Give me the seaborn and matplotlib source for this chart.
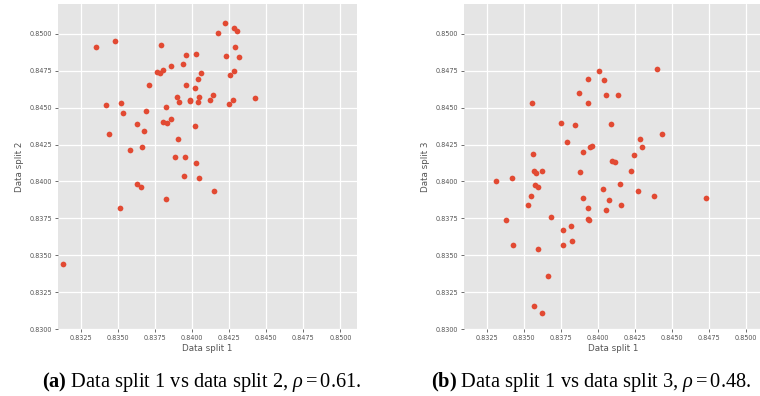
import matplotlib
matplotlib.use("Agg")
import matplotlib.pyplot as plt
from matplotlib.ticker import MultipleLocator, FormatStrFormatter
import seaborn as sns
import pandas as pd

# Validation scores of the same runs evaluated on different data splits
split1_vs2 = [0.83351, 0.83477, 0.83786, 0.84176, 0.84218, 0.84284, 0.84302, 0.84291,
              0.84230, 0.84315, 0.83955, 0.84025, 0.83937, 0.83858, 0.83759, 0.83779,
              0.83804, 0.84059, 0.84036, 0.84255, 0.84284, 0.83707, 0.83957, 0.84016,
              0.84140, 0.84122, 0.83896, 0.83982, 0.83986, 0.83910, 0.84036, 0.84045,
              0.84248, 0.84277, 0.84421, 0.83414, 0.83518, 0.83532, 0.83685, 0.83824,
              0.83802, 0.83827, 0.83854, 0.83626, 0.83671, 0.83435, 0.84020, 0.83901,
              0.83660, 0.83581, 0.83883, 0.83948, 0.84027, 0.83946, 0.84047, 0.83628,
              0.83655, 0.83514, 0.83820, 0.84149, 0.83126]
split2 = [0.84910, 0.84953, 0.84921, 0.85002, 0.85074, 0.85036, 0.85018, 0.84910,
          0.84849, 0.84842, 0.84854, 0.84865, 0.84797, 0.84779, 0.84743, 0.84736,
          0.84757, 0.84732, 0.84696, 0.84721, 0.84750, 0.84651, 0.84651, 0.84633,
          0.84586, 0.84554, 0.84574, 0.84554, 0.84545, 0.84536, 0.84536, 0.84572,
          0.84523, 0.84550, 0.84565, 0.84514, 0.84532, 0.84464, 0.84475, 0.84507,
          0.84405, 0.84396, 0.84423, 0.84387, 0.84340, 0.84322, 0.84372, 0.84284,
          0.84232, 0.84214, 0.84164, 0.84164, 0.84124, 0.84038, 0.84025, 0.83980,
          0.83962, 0.83820, 0.83881, 0.83937, 0.83444]

split1_vs3 = [0.84006, 0.83932, 0.84040, 0.84397, 0.83872, 0.84056, 0.84132, 0.83557,
              0.83932, 0.83750, 0.83842, 0.84085, 0.84433, 0.83791, 0.83946, 0.83961,
              0.83901, 0.83564, 0.84285, 0.84300, 0.84246, 0.84094, 0.84116, 0.84224,
              0.83878, 0.83566, 0.83580, 0.83620, 0.83308, 0.83416, 0.83575, 0.83598,
              0.83546, 0.83524, 0.83681, 0.83380, 0.83896, 0.83934, 0.83932, 0.83939,
              0.84031, 0.84071, 0.84056, 0.84148, 0.84157, 0.84271, 0.84377, 0.84727,
              0.83766, 0.83820, 0.83827, 0.83766, 0.83427, 0.83598, 0.83661, 0.83571,
              0.83623]
split3 = [0.84750, 0.84694, 0.84687, 0.84761, 0.84597, 0.84586, 0.84583, 0.84529,
          0.84534, 0.84396, 0.84383, 0.84387, 0.84322, 0.84268, 0.84230, 0.84239,
          0.84200, 0.84189, 0.84286, 0.84232, 0.84176, 0.84140, 0.84135, 0.84068,
          0.84061, 0.84068, 0.84057, 0.84074, 0.84000, 0.84023, 0.83977, 0.83964,
          0.83901, 0.83842, 0.83759, 0.83741, 0.83887, 0.83818, 0.83743, 0.83739,
          0.83948, 0.83874, 0.83806, 0.83984, 0.83842, 0.83935, 0.83903, 0.83887,
          0.83671, 0.83698, 0.83595, 0.83568, 0.83570, 0.83541, 0.83358, 0.83158,
          0.83108]

captions = [r"$\mathbf{(a)}$ Data split 1 vs data split 2, $\rho=0.61$.",
            r"$\mathbf{(b)}$ Data split 1 vs data split 3, $\rho=0.48$."]

sns.set_theme(style="darkgrid")
plt.rcParams.update({
    "axes.facecolor": "#E5E5E5",
    "grid.color": "white",
    "grid.linewidth": 0.9,
    "axes.edgecolor": "white",
    "axes.labelcolor": "#555555",
    "xtick.color": "#555555",
    "ytick.color": "#555555",
    "xtick.bottom": True,
    "ytick.left": True,
    "xtick.major.size": 2.2,
    "ytick.major.size": 2.2,
    "xtick.major.width": 0.6,
    "ytick.major.width": 0.6,
    "xtick.major.pad": 2.0,
    "ytick.major.pad": 2.0,
    "mathtext.fontset": "custom",
    "mathtext.rm": "Liberation Serif",
    "mathtext.it": "Liberation Serif:italic",
    "mathtext.bf": "Liberation Serif:bold",
})
plt.rcParams["font.family"] = ["DejaVu Sans"]

fig = plt.figure(figsize=(7.6, 3.96), dpi=100)
ax_w, ax_h = 0.3926, 0.8212
ax1 = fig.add_axes([0.0767, 0.1685, ax_w, ax_h])
ax2 = fig.add_axes([0.6105, 0.1685, ax_w, ax_h])

panels = [
    (ax1, split1_vs2, split2, "Data split 2"),
    (ax2, split1_vs3, split3, "Data split 3"),
]
for ax, xs, ys, ylab in panels:
    df = pd.DataFrame({"Data split 1": xs, ylab: ys})
    sns.scatterplot(data=df, x="Data split 1", y=ylab, ax=ax,
                    color="#E24A33", s=17, linewidth=0)
    ax.set_xlim(0.83095, 0.85110)
    ax.set_ylim(0.8300, 0.8520)
    ax.xaxis.set_major_locator(MultipleLocator(0.0025))
    ax.yaxis.set_major_locator(MultipleLocator(0.0025))
    ax.xaxis.set_major_formatter(FormatStrFormatter("%.4f"))
    ax.yaxis.set_major_formatter(FormatStrFormatter("%.4f"))
    ax.tick_params(labelsize=4.7)
    ax.set_xlabel("Data split 1", fontsize=6.3, labelpad=2)
    ax.set_ylabel(ylab, fontsize=6.3, labelpad=4)
    for sp in ax.spines.values():
        sp.set_visible(False)

for xc, cap in zip([0.265, 0.778], captions):
    fig.text(xc, 0.036, cap, ha="center", va="center", fontsize=14.7,
             family=["Liberation Serif"], color="black")

fig.savefig("out.png", dpi=100)
